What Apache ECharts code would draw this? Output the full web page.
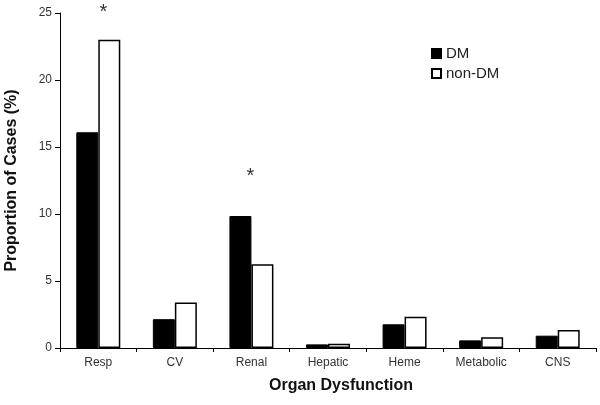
<!DOCTYPE html>
<html>
<head>
<meta charset="utf-8">
<script src="https://cdn.jsdelivr.net/npm/echarts@6/dist/echarts.min.js"></script>
<style>
  html, body { margin: 0; padding: 0; background: #fff; }
  #chart { width: 600px; height: 405px; }
</style>
</head>
<body>
<div id="chart"></div>
<script>
const categories = ['Resp', 'CV', 'Renal', 'Hepatic', 'Heme', 'Metabolic', 'CNS'];
const dmValues = [16.1, 2.15, 9.85, 0.27, 1.77, 0.57, 0.92];
const nonDmValues = [23.0, 3.4, 6.25, 0.32, 2.34, 0.8, 1.34];
// categories marked significant (asterisk) and the series it sits over
const sigDm = ['Renal'];
const sigNonDm = ['Resp'];

const font = '"Liberation Sans", Arial, sans-serif';

function withStars(values, marked, offsetX, dist) {
  return values.map((v, i) => {
    if (!marked.includes(categories[i])) return v;
    return {
      value: v,
      label: {
        show: true,
        position: 'top',
        distance: dist,
        offset: [offsetX, 0],
        formatter: '*',
        fontSize: 20,
        fontFamily: font,
        color: '#333'
      }
    };
  });
}

const chart = echarts.init(document.getElementById('chart'));
chart.setOption({
  animation: false,
  textStyle: { fontFamily: font },
  grid: { left: 60, right: 4, top: 13, bottom: 57, outerBoundsMode: 'none' },
  legend: {
    orient: 'vertical',
    left: 426,
    top: 41,
    itemWidth: 9,
    itemHeight: 9,
    itemGap: 5,
    icon: 'rect',
    textStyle: { fontSize: 15, color: '#222', fontFamily: font }
  },
  xAxis: {
    type: 'category',
    data: categories,
    name: 'Organ Dysfunction',
    nameLocation: 'middle',
    nameGap: 30,
    nameTextStyle: { fontSize: 16, fontWeight: 'bold', color: '#111', padding: [0, 0, 0, 26] },
    axisLine: { lineStyle: { color: '#000', width: 1 } },
    axisTick: { show: true, length: 4, lineStyle: { color: '#000' } },
    axisLabel: { fontSize: 12, color: '#333', margin: 9 }
  },
  yAxis: {
    type: 'value',
    min: 0,
    max: 25,
    interval: 5,
    name: 'Proportion of Cases (%)',
    nameLocation: 'middle',
    nameGap: 40,
    nameTextStyle: { fontSize: 16, fontWeight: 'bold', color: '#111' },
    axisLine: { show: true, lineStyle: { color: '#000', width: 1 } },
    axisTick: { show: true, length: 5, lineStyle: { color: '#000' } },
    axisLabel: { fontSize: 12, color: '#333', margin: 8 },
    splitLine: { show: false }
  },
  series: [
    {
      name: 'DM',
      type: 'bar',
      data: withStars(dmValues, sigDm, 10, 30),
      barWidth: 22,
      barGap: '0%',
      itemStyle: { color: '#000', borderColor: '#000', borderWidth: 1 }
    },
    {
      name: 'non-DM',
      type: 'bar',
      data: withStars(nonDmValues, sigNonDm, -6, 17),
      barWidth: 22,
      barGap: '0%',
      itemStyle: { color: '#fff', borderColor: '#000', borderWidth: 1.5 }
    }
  ]
});
</script>
</body>
</html>
